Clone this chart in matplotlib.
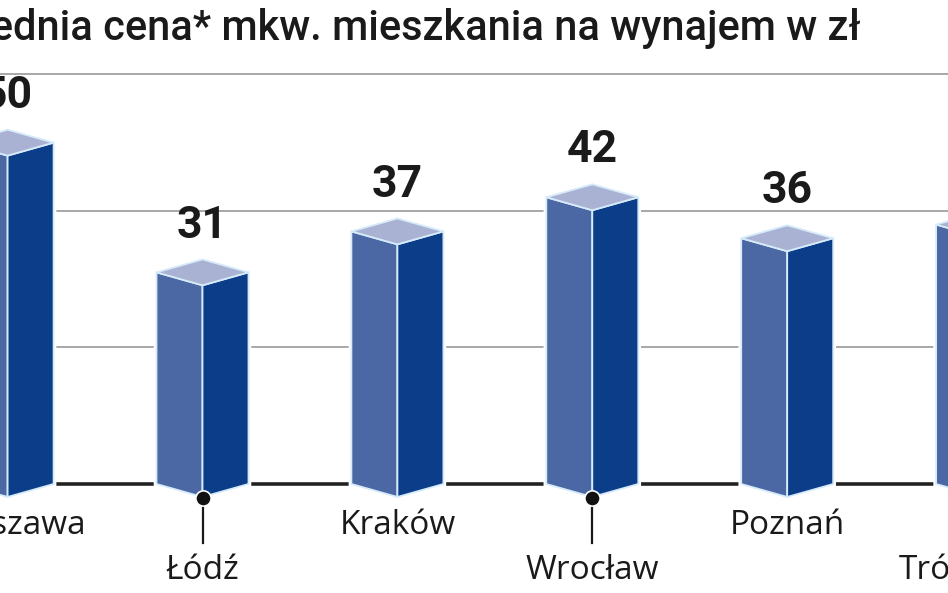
import matplotlib.pyplot as plt
from matplotlib.patches import Polygon

# data
cities = ["Warszawa", "Łódź", "Kraków", "Wrocław", "Poznań", "Trójmiasto"]
prices = [50, 31, 37, 42, 36, 38]
grid_vals = [20, 40, 60]
title = "Średnia cena* mkw. mieszkania na wynajem w zł"

# colours
c_left = "#4b68a4"
c_right = "#0b3d88"
c_top = "#aab2d4"
c_edge = "#d6ebfa"

fig = plt.figure(figsize=(9.48, 5.93), dpi=100)
ax = fig.add_axes([0, 0, 1, 1])
ax.set_xlim(-0.039, 4.825)
ax.set_ylim(-15.97, 70.9)
ax.axis("off")

hw = 0.236   # half width of a bar (category units)
dz = 1.9     # vertical offset of the top/bottom diamond

# gridlines
for g in grid_vals:
    ax.axhline(g, color="#a0a0a0", lw=1.3, zorder=1)
ax.axhline(0, color="#222222", lw=2.6, zorder=1)

for i, (city, v) in enumerate(zip(cities, prices)):
    # side corners sit at v, back vertex above, front vertex below
    top = [(i - hw, v), (i, v + dz), (i + hw, v), (i, v - dz)]
    left = [(i - hw, 0), (i, -dz), (i, v - dz), (i - hw, v)]
    right = [(i, -dz), (i + hw, 0), (i + hw, v), (i, v - dz)]
    outline = [(i - hw, 0), (i, -dz), (i + hw, 0), (i + hw, v), (i, v + dz), (i - hw, v)]
    ax.add_patch(Polygon(outline, closed=True, facecolor="white", edgecolor="white",
                         lw=4, zorder=2))
    for pts, col in [(left, c_left), (right, c_right), (top, c_top)]:
        ax.add_patch(Polygon(pts, closed=True, facecolor=col, edgecolor=c_edge,
                             lw=1.3, zorder=3, joinstyle="miter"))

    if i < len(cities) - 1:  # the last label lies outside the frame
        ax.text(i, v + dz + 3.2, str(v), ha="center", va="baseline", fontsize=32,
                fontweight="bold", family="Roboto", color="#1a1a1a", zorder=4)

    if i % 2 == 0:
        ax.text(i, -3.6, city, ha="center", va="top", fontsize=24,
                family="Open Sans", color="#1a1a1a")
    else:
        ax.plot([i, i], [-2.1, -8.7], color="#1a1a1a", lw=1.6, zorder=4)
        ax.plot(i, -2.1, "o", color="#111111", ms=11, mec="white", mew=1.2, zorder=5)
        ax.text(i, -10.2, city, ha="center", va="top", fontsize=24,
                family="Open Sans", color="#1a1a1a")

fig.text(861 / 948, 1 - 40 / 593, title, ha="right", va="baseline", fontsize=30,
         family="Roboto", fontweight="medium", color="#1a1a1a")

fig.savefig("out.png", dpi=100)
